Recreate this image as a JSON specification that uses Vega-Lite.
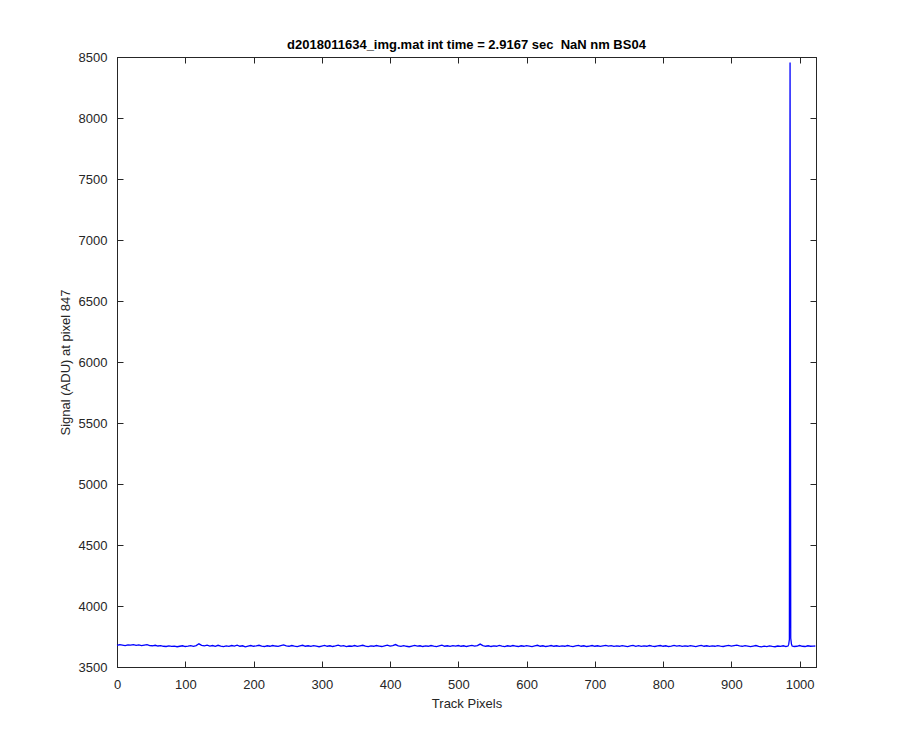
{
"$schema": "https://vega.github.io/schema/vega-lite/v6.json",
"width": 699,
"height": 610,
"autosize": {"type": "none"},
"padding": {"left": 117, "top": 57, "right": 84, "bottom": 83},
"background": "white",
"config": {
  "view": {"stroke": "#262626", "strokeWidth": 1},
  "axis": {"domainColor": "#262626", "tickColor": "#262626", "labelColor": "#262626", "titleColor": "#262626", "labelFont": "Liberation Sans", "titleFont": "Liberation Sans", "labelFontSize": 13, "titleFontSize": 13, "titleFontWeight": "normal", "grid": false, "tickSize": -6, "domainWidth": 1, "tickWidth": 1, "labelFlush": false, "format": "d"}
},
"title": {"text": "d2018011634_img.mat int time = 2.9167 sec \u00a0NaN nm BS04", "font": "Liberation Sans", "fontSize": 13, "fontWeight": "bold", "color": "#000000", "anchor": "middle", "offset": -1},
"data": {"values": [
{"x":0,"y":3678},{"x":4,"y":3684},{"x":8,"y":3680},{"x":12,"y":3676},{"x":16,"y":3682},{"x":20,"y":3679},{"x":24,"y":3684},{"x":28,"y":3677},{"x":32,"y":3681},{"x":36,"y":3675},{"x":40,"y":3679},{"x":44,"y":3683},{"x":48,"y":3676},{"x":52,"y":3674},{"x":56,"y":3678},{"x":60,"y":3672},{"x":64,"y":3675},{"x":68,"y":3670},{"x":72,"y":3668},{"x":76,"y":3673},{"x":80,"y":3669},{"x":84,"y":3671},{"x":88,"y":3666},{"x":92,"y":3670},{"x":96,"y":3674},{"x":100,"y":3668},{"x":104,"y":3671},{"x":108,"y":3675},{"x":112,"y":3670},{"x":116,"y":3676},{"x":120,"y":3690},{"x":124,"y":3678},{"x":128,"y":3674},{"x":132,"y":3679},{"x":136,"y":3672},{"x":140,"y":3676},{"x":144,"y":3670},{"x":148,"y":3678},{"x":152,"y":3671},{"x":156,"y":3667},{"x":160,"y":3673},{"x":164,"y":3669},{"x":168,"y":3676},{"x":172,"y":3672},{"x":176,"y":3679},{"x":180,"y":3670},{"x":184,"y":3674},{"x":188,"y":3665},{"x":192,"y":3671},{"x":196,"y":3676},{"x":200,"y":3670},{"x":204,"y":3673},{"x":208,"y":3678},{"x":212,"y":3671},{"x":216,"y":3668},{"x":220,"y":3674},{"x":224,"y":3670},{"x":228,"y":3676},{"x":232,"y":3672},{"x":236,"y":3669},{"x":240,"y":3675},{"x":244,"y":3681},{"x":248,"y":3673},{"x":252,"y":3670},{"x":256,"y":3676},{"x":260,"y":3671},{"x":264,"y":3667},{"x":268,"y":3673},{"x":272,"y":3678},{"x":276,"y":3670},{"x":280,"y":3674},{"x":284,"y":3669},{"x":288,"y":3675},{"x":292,"y":3671},{"x":296,"y":3666},{"x":300,"y":3672},{"x":304,"y":3677},{"x":308,"y":3670},{"x":312,"y":3674},{"x":316,"y":3668},{"x":320,"y":3673},{"x":324,"y":3679},{"x":328,"y":3671},{"x":332,"y":3675},{"x":336,"y":3667},{"x":340,"y":3672},{"x":344,"y":3670},{"x":348,"y":3676},{"x":352,"y":3669},{"x":356,"y":3674},{"x":360,"y":3678},{"x":364,"y":3671},{"x":368,"y":3667},{"x":372,"y":3673},{"x":376,"y":3670},{"x":380,"y":3676},{"x":384,"y":3672},{"x":388,"y":3668},{"x":392,"y":3674},{"x":396,"y":3679},{"x":400,"y":3671},{"x":404,"y":3676},{"x":408,"y":3684},{"x":412,"y":3673},{"x":416,"y":3669},{"x":420,"y":3675},{"x":424,"y":3670},{"x":428,"y":3666},{"x":432,"y":3672},{"x":436,"y":3677},{"x":440,"y":3671},{"x":444,"y":3674},{"x":448,"y":3668},{"x":452,"y":3673},{"x":456,"y":3670},{"x":460,"y":3676},{"x":464,"y":3671},{"x":468,"y":3667},{"x":472,"y":3673},{"x":476,"y":3679},{"x":480,"y":3670},{"x":484,"y":3674},{"x":488,"y":3669},{"x":492,"y":3675},{"x":496,"y":3671},{"x":500,"y":3676},{"x":504,"y":3670},{"x":508,"y":3674},{"x":512,"y":3668},{"x":516,"y":3673},{"x":520,"y":3677},{"x":524,"y":3671},{"x":528,"y":3675},{"x":532,"y":3688},{"x":536,"y":3676},{"x":540,"y":3670},{"x":544,"y":3674},{"x":548,"y":3668},{"x":552,"y":3673},{"x":556,"y":3670},{"x":560,"y":3677},{"x":564,"y":3671},{"x":568,"y":3667},{"x":572,"y":3674},{"x":576,"y":3670},{"x":580,"y":3676},{"x":584,"y":3672},{"x":588,"y":3668},{"x":592,"y":3674},{"x":596,"y":3670},{"x":600,"y":3675},{"x":604,"y":3671},{"x":608,"y":3667},{"x":612,"y":3673},{"x":616,"y":3678},{"x":620,"y":3670},{"x":624,"y":3674},{"x":628,"y":3668},{"x":632,"y":3672},{"x":636,"y":3676},{"x":640,"y":3670},{"x":644,"y":3674},{"x":648,"y":3669},{"x":652,"y":3673},{"x":656,"y":3670},{"x":660,"y":3676},{"x":664,"y":3671},{"x":668,"y":3667},{"x":672,"y":3673},{"x":676,"y":3677},{"x":680,"y":3670},{"x":684,"y":3674},{"x":688,"y":3668},{"x":692,"y":3672},{"x":696,"y":3676},{"x":700,"y":3670},{"x":704,"y":3674},{"x":708,"y":3669},{"x":712,"y":3673},{"x":716,"y":3677},{"x":720,"y":3671},{"x":724,"y":3675},{"x":728,"y":3669},{"x":732,"y":3673},{"x":736,"y":3670},{"x":740,"y":3675},{"x":744,"y":3671},{"x":748,"y":3667},{"x":752,"y":3673},{"x":756,"y":3677},{"x":760,"y":3670},{"x":764,"y":3675},{"x":768,"y":3669},{"x":772,"y":3673},{"x":776,"y":3670},{"x":780,"y":3676},{"x":784,"y":3671},{"x":788,"y":3668},{"x":792,"y":3673},{"x":796,"y":3676},{"x":800,"y":3670},{"x":804,"y":3674},{"x":808,"y":3668},{"x":812,"y":3672},{"x":816,"y":3677},{"x":820,"y":3671},{"x":824,"y":3675},{"x":828,"y":3669},{"x":832,"y":3673},{"x":836,"y":3670},{"x":840,"y":3675},{"x":844,"y":3671},{"x":848,"y":3667},{"x":852,"y":3673},{"x":856,"y":3677},{"x":860,"y":3670},{"x":864,"y":3674},{"x":868,"y":3669},{"x":872,"y":3673},{"x":876,"y":3670},{"x":880,"y":3675},{"x":884,"y":3671},{"x":888,"y":3668},{"x":892,"y":3673},{"x":896,"y":3677},{"x":900,"y":3671},{"x":904,"y":3675},{"x":908,"y":3679},{"x":912,"y":3673},{"x":916,"y":3670},{"x":920,"y":3675},{"x":924,"y":3671},{"x":928,"y":3667},{"x":932,"y":3672},{"x":936,"y":3676},{"x":940,"y":3670},{"x":944,"y":3665},{"x":948,"y":3671},{"x":952,"y":3667},{"x":956,"y":3673},{"x":960,"y":3669},{"x":964,"y":3666},{"x":968,"y":3672},{"x":972,"y":3669},{"x":976,"y":3674},{"x":980,"y":3668},{"x":983,"y":3672},{"x":984,"y":3685},{"x":985,"y":3725},{"x":986,"y":8455},{"x":987,"y":3735},{"x":988,"y":3690},{"x":989,"y":3672},{"x":992,"y":3668},{"x":996,"y":3670},{"x":1000,"y":3676},{"x":1004,"y":3670},{"x":1008,"y":3668},{"x":1012,"y":3674},{"x":1016,"y":3670},{"x":1020,"y":3671},{"x":1023,"y":3672}
]},
"layer": [
  {
    "mark": {"type": "line", "color": "#0000ff", "strokeWidth": 1.3},
    "encoding": {
      "x": {"field": "x", "type": "quantitative", "scale": {"domain": [0, 1024], "nice": false, "zero": false}, "axis": {"orient": "bottom", "values": [0,100,200,300,400,500,600,700,800,900,1000], "labelPadding": 17, "title": "Track Pixels", "titlePadding": 6}},
      "y": {"field": "y", "type": "quantitative", "scale": {"domain": [3500, 8500], "nice": false, "zero": false}, "axis": {"orient": "left", "values": [3500,4000,4500,5000,5500,6000,6500,7000,7500,8000,8500], "labelPadding": 16, "title": "Signal (ADU) at pixel 847", "titlePadding": 6}}
    }
  },
  {
    "mark": {"type": "line", "strokeOpacity": 0},
    "encoding": {
      "x": {"field": "x", "type": "quantitative", "scale": {"domain": [0, 1024], "nice": false, "zero": false}, "axis": {"orient": "top", "values": [0,100,200,300,400,500,600,700,800,900,1000], "labels": false, "title": null}},
      "y": {"field": "y", "type": "quantitative", "scale": {"domain": [3500, 8500], "nice": false, "zero": false}, "axis": {"orient": "right", "values": [3500,4000,4500,5000,5500,6000,6500,7000,7500,8000,8500], "labels": false, "title": null}}
    }
  }
],
"resolve": {"axis": {"x": "independent", "y": "independent"}}
}
